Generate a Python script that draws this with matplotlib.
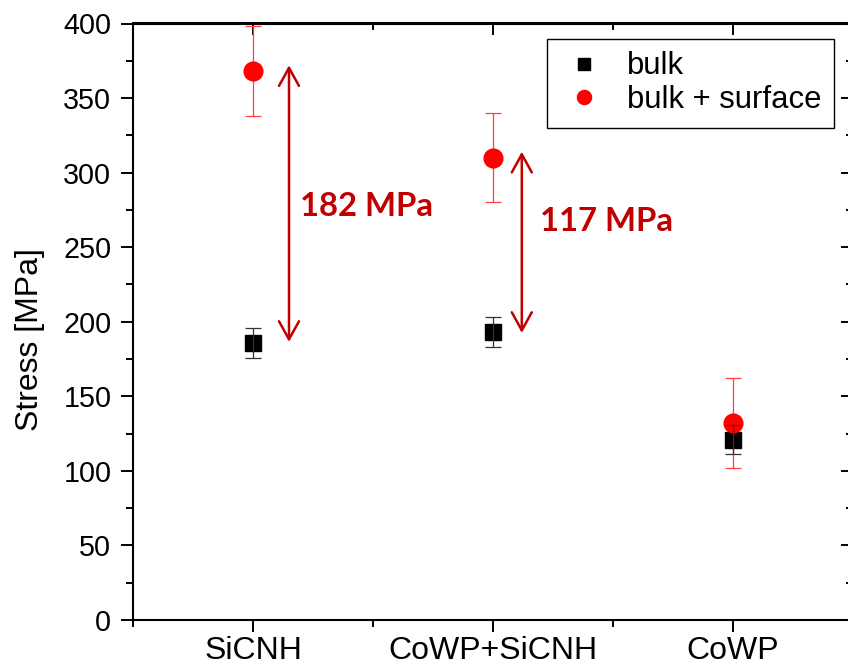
import matplotlib
matplotlib.use("Agg")
from matplotlib import pyplot as plt
from matplotlib.patches import FancyArrowPatch
from matplotlib.ticker import MultipleLocator

plt.rcParams['font.family'] = ['Liberation Sans', 'DejaVu Sans']

# data
categories = ["SiCNH", "CoWP+SiCNH", "CoWP"]
positions = [1, 2, 3]
bulk = [186, 193, 121]
bulk_err = [10, 10, 10]
surface = [368, 310, 132]
surface_err = [30, 30, 30]

# difference arrows (start, end) and labels
arrow_x = [1.15, 2.12]
arrow_lo = [186.5, 192.5]
arrow_hi = [372, 314]
diff_labels = ["182 MPa", "117 MPa"]
label_x = [1.195, 2.195]
label_y = [277, 267]

dark_red = "#C00000"

fig = plt.figure(figsize=(8.48, 6.7), dpi=100)
fig.patch.set_facecolor("white")
ax = fig.add_axes([133 / 848, 50 / 670, 720 / 848, 596.5 / 670])

# error bars
ax.errorbar(positions, surface, yerr=surface_err, fmt="none", ecolor="#ff4040",
            elinewidth=0.9, capsize=5.8, capthick=0.9, zorder=1)
sq, = ax.plot(positions, bulk, "s", color="black", markersize=12, zorder=2, label="bulk")
ci, = ax.plot(positions, surface, "o", color="#ff0000", markersize=13.5, zorder=3,
              label="bulk + surface")
ax.errorbar(positions, bulk, yerr=bulk_err, fmt="none", ecolor="#333333",
            elinewidth=0.9, capsize=5.8, capthick=0.9, zorder=4)

# difference arrows
for xa, lo, hi, txt, tx, ty in zip(arrow_x, arrow_lo, arrow_hi, diff_labels, label_x, label_y):
    arr = FancyArrowPatch((xa, lo), (xa, hi),
                          arrowstyle="<->,head_length=1.3,head_width=0.72",
                          mutation_scale=10, color=dark_red, lw=1.8,
                          shrinkA=0, shrinkB=0, zorder=5)
    ax.add_patch(arr)
    ax.text(tx, ty, txt, color=dark_red, fontsize=23.7, fontweight="bold",
            family=["Lato", "DejaVu Sans"], ha="left", va="center")

ax.set_xlim(0.5, 3.5)
ax.set_ylim(0, 400)
ax.set_xticks(positions)
ax.set_xticklabels(categories)
ax.xaxis.set_minor_locator(MultipleLocator(0.5))
ax.yaxis.set_major_locator(MultipleLocator(50))
ax.yaxis.set_minor_locator(MultipleLocator(25))

ax.tick_params(axis="both", which="major", direction="out", length=8.6, width=1.4)
ax.tick_params(axis="both", which="minor", direction="out", length=5, width=1.4)
ax.tick_params(axis="x", labelsize=23, pad=3)
ax.tick_params(axis="y", labelsize=20.7, pad=7)

for s in ax.spines.values():
    s.set_linewidth(1.5)

# inward ticks on top and right
top = ax.secondary_xaxis("top")
top.set_xticks(positions)
top.set_xticklabels([])
top.xaxis.set_minor_locator(MultipleLocator(0.5))
top.tick_params(which="major", direction="in", length=8.6, width=1.4)
top.tick_params(which="minor", direction="in", length=5, width=1.4)
top.spines["top"].set_linewidth(1.5)

right = ax.secondary_yaxis("right")
right.yaxis.set_major_locator(MultipleLocator(50))
right.yaxis.set_minor_locator(MultipleLocator(25))
right.set_yticklabels([])
right.tick_params(which="major", direction="in", length=8.6, width=1.4)
right.tick_params(which="minor", direction="in", length=5, width=1.4)

ax.set_ylabel("Stress [MPa]", fontsize=23)
ax.yaxis.set_label_coords(-0.122, 0.47)

leg = ax.legend(handles=[sq, ci], loc="upper right", bbox_to_anchor=(0.974, 0.974),
                fontsize=22.3, frameon=True, fancybox=False, edgecolor="black",
                framealpha=1, markerscale=0.75, handlelength=1.58,
                handletextpad=0.62, labelspacing=0.12, borderpad=0.4,
                borderaxespad=0)
leg.get_frame().set_linewidth(1.0)

fig.savefig("out.png", dpi=100, facecolor="white")
